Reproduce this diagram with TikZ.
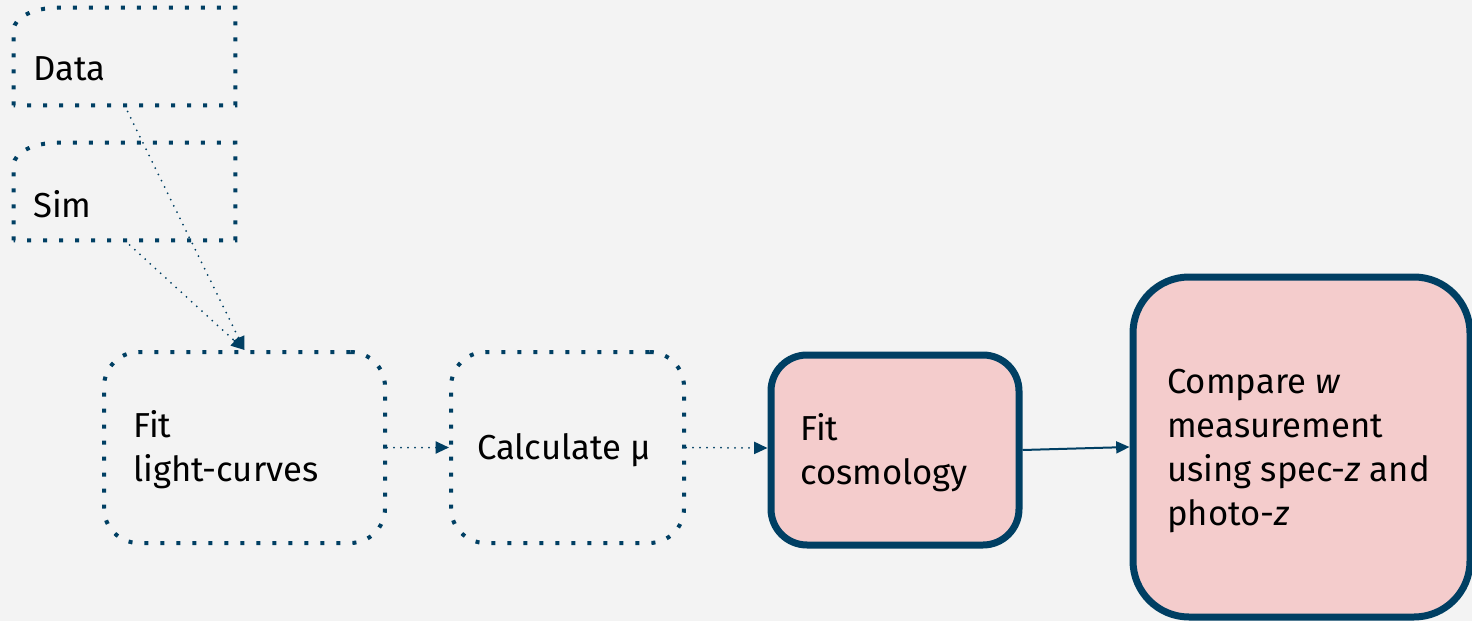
\documentclass[tikz,border=0pt]{standalone}
\usepackage{fontspec}
\setmainfont{Fira Sans}
\usetikzlibrary{arrows.meta}
\definecolor{navy}{HTML}{003F63}
\definecolor{pinkfill}{HTML}{F4CCCC}
\definecolor{bg}{HTML}{F3F3F3}
\begin{document}
\begin{tikzpicture}[x=0.75pt,y=-0.75pt,
  dotbox/.style={draw=navy, line width=3pt, dash pattern=on 3pt off 9pt, line cap=butt, rounded corners=26pt, inner sep=0pt},
  solidbox/.style={draw=navy, fill=pinkfill, line width=5.25pt, inner sep=0pt},
  holder/.style={rectangle, inner sep=0pt},
  dotoutline/.style={draw=navy, line width=3pt, dash pattern=on 3pt off 9pt, line cap=butt},
  lbl/.style={anchor=west, align=left, inner sep=0pt, font=\fontsize{26}{33}\selectfont},
  dotarrow/.style={draw=navy, line width=1.5pt, dash pattern=on 0pt off 5.25pt, line cap=round, -{Triangle[length=10pt,width=9pt]}},
  solidarrow/.style={draw=navy, line width=1.5pt, -{Triangle[length=10pt,width=9pt]}}
]
\useasboundingbox (0,0) rectangle (1472,621);
\fill[bg] (0,0) rectangle (1472,621);

% Data and Sim holders
\node[holder, minimum width={221*0.75pt}, minimum height={97*0.75pt}] (data) at (124.5,56.5) {};
\node[holder, minimum width={221*0.75pt}, minimum height={97*0.75pt}] (sim) at (124.5,191.5) {};
\foreach \n in {data,sim}{
  \draw[dotoutline] (\n.south west) -- ([yshift=-22*0.75pt]\n.north west)
    arc[start angle=180, end angle=90, x radius=44*0.75pt, y radius=22*0.75pt]
    -- (\n.north east) -- (\n.south east) -- cycle;
}
\node[lbl] (datat) at (33,69) {Data};
\node[lbl] (simt) at (33,204) {Sim};

% Boxes
\node[dotbox, minimum width={281*0.75pt}, minimum height={191*0.75pt}] (fitlc) at (244.5,447.5) {};
\node[dotbox, minimum width={233*0.75pt}, minimum height={191*0.75pt}] (calc) at (567.5,447.5) {};
\node[solidbox, rounded corners=27pt, minimum width={248*0.75pt}, minimum height={190*0.75pt}] (cosmo) at (895,450) {};
\node[solidbox, rounded corners=42pt, minimum width={337*0.75pt}, minimum height={340*0.75pt}] (compare) at (1301.5,447) {};

\node[lbl] (fitlct) at (133,450) {Fit\\light-curves};
\node[lbl] (calct) at (477,450) {Calculate μ};
\node[lbl] (cosmot) at (800,453) {Fit\\cosmology};
\node[lbl] (comparet) at (1167,451) {Compare \textit{w}\\measurement\\using spec-\textit{z} and\\photo-\textit{z}};

% Connectors
\draw[dotarrow] (data.south) -- (fitlc.north);
\draw[dotarrow] (sim.south) -- (fitlc.north);
\draw[dotarrow] (fitlc.east) -- (calc.west);
\draw[dotarrow] (calc.east) -- ([yshift=2*0.75pt]cosmo.west);
\draw[solidarrow] (cosmo.east) -- (compare.west);
\end{tikzpicture}
\end{document}
